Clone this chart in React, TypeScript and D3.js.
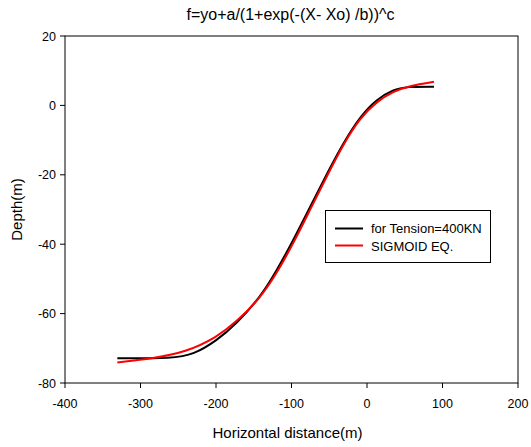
import React from "react";
import * as d3 from "d3";

const blackX = [-330.7, -256.5, -230, -199, -172.6, -141.7, -119.6, -97.6, -75.5, -53.4, -31.4, -9.3, 12.8, 34.8, 52.6, 88.7];
const blackY = [-72.9, -72.9, -71.8, -67.8, -62.8, -55.4, -47.6, -38.8, -29.3, -19.8, -10.8, -3.2, 1.8, 4.6, 5.4, 5.4];
const redX = [-330.7, -283, -238.9, -199, -172.6, -141.7, -119.6, -97.6, -75.5, -53.4, -31.4, -9.3, 12.8, 34.8, 57, 88.7];
const redY = [-74.1, -72.9, -71.0, -66.8, -62.3, -55.6, -48.4, -39.8, -30.1, -20.5, -11.2, -3.6, 1.1, 4.0, 5.7, 6.8];
const xTicks = [-400, -300, -200, -100, 0, 100, 200];
const yTicks = [20, 0, -20, -40, -60, -80];
const seriesNames = ["for Tension=400KN", "SIGMOID EQ."];
const title = "f=yo+a/(1+exp(-(X- Xo) /b))^c";

export default function App() {
  const W = 531, H = 447;
  const L = 65, R = 518, T = 36, B = 383;
  const x = d3.scaleLinear().domain([-400, 200]).range([L, R]);
  const y = d3.scaleLinear().domain([-80, 20]).range([B, T]);
  const line = d3.line<[number, number]>().x(d => x(d[0])).y(d => y(d[1])).curve(d3.curveBasis);
  const blk = line(blackX.map((v, i) => [v, blackY[i]] as [number, number])) || "";
  const red = line(redX.map((v, i) => [v, redY[i]] as [number, number])) || "";
  const font = "Arial, 'Liberation Sans', sans-serif";
  return (
    <svg width={W} height={H} style={{ position: "absolute", left: 0, top: 0 }} fontFamily={font}>
      <rect x={0} y={0} width={W} height={H} fill="#fff" />
      <text x={(L + R) / 2 - 1} y={20} textAnchor="middle" fontSize={16}>{title}</text>
      <rect x={L} y={T} width={R - L} height={B - T} fill="none" stroke="#000" strokeWidth={1} />
      {xTicks.map(t => (
        <g key={"x" + t}>
          <line x1={x(t)} x2={x(t)} y1={B} y2={B + 5} stroke="#000" />
          <text x={x(t)} y={408} textAnchor="middle" fontSize={12.5}>{t}</text>
        </g>
      ))}
      {yTicks.map(t => (
        <g key={"y" + t}>
          <line x1={L - 5} x2={L} y1={y(t)} y2={y(t)} stroke="#000" />
          <text x={56} y={y(t) + 4.5} textAnchor="end" fontSize={12.5}>{t}</text>
        </g>
      ))}
      <text x={(L + R) / 2 - 4} y={438} textAnchor="middle" fontSize={15}>Horizontal distance(m)</text>
      <text transform={`translate(22,${(T + B) / 2}) rotate(-90)`} textAnchor="middle" fontSize={15}>Depth(m)</text>
      <path d={blk} fill="none" stroke="#000" strokeWidth={2} />
      <path d={red} fill="none" stroke="#ff0000" strokeWidth={2} />
      <rect x={325.5} y={210.5} width={165} height={52} fill="#fff" stroke="#000" strokeWidth={1} />
      <line x1={335} x2={363} y1={228.5} y2={228.5} stroke="#000" strokeWidth={2} />
      <line x1={335} x2={363} y1={245.5} y2={245.5} stroke="#ff0000" strokeWidth={2} />
      <text x={371} y={233} fontSize={13}>{seriesNames[0]}</text>
      <text x={371} y={250.5} fontSize={13}>{seriesNames[1]}</text>
    </svg>
  );
}
